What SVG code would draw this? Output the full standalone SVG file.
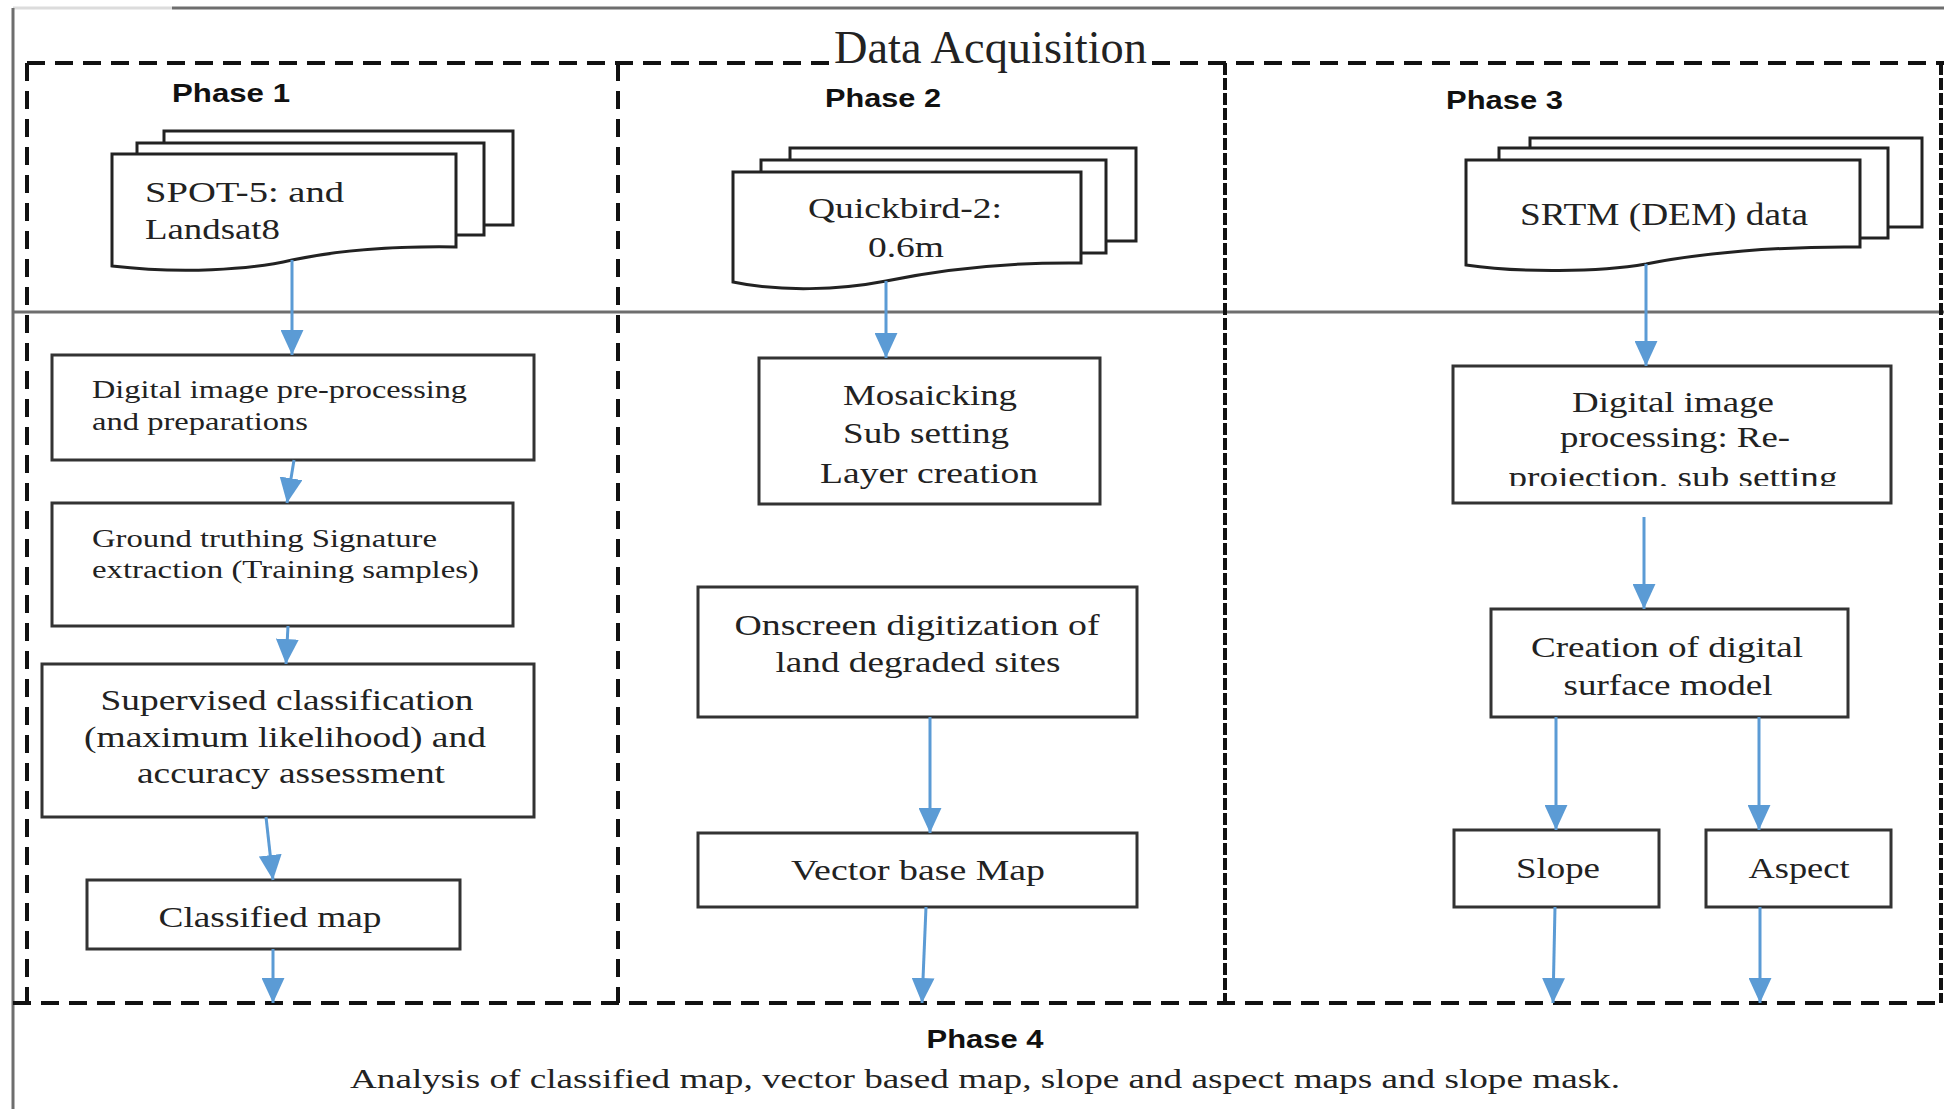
<svg xmlns="http://www.w3.org/2000/svg" width="1944" height="1109" viewBox="0 0 1944 1109">
<style>
.frame{fill:none;stroke:#6e6e6e;stroke-width:3}
.dash{fill:none;stroke:#111;stroke-width:4;stroke-dasharray:18 10}
.dash2{fill:none;stroke:#111;stroke-width:4;stroke-dasharray:12 3}
.box{fill:#fff;stroke:#333;stroke-width:3}
.doc{fill:#fff;stroke:#222;stroke-width:3}
.t{font-family:"Liberation Serif",serif;fill:#222}
.ph{font-family:"Liberation Sans",Arial,sans-serif;font-weight:bold;font-size:26px;fill:#111}
.arr{stroke:#5b9bd5;stroke-width:3;fill:none;marker-end:url(#ah)}
</style>
<defs>
<marker id="ah" viewBox="0 0 24 22" refX="24" refY="11" markerWidth="25" markerHeight="23" markerUnits="userSpaceOnUse" orient="auto">
<path d="M0,0 L24,11 L0,22 Z" fill="#5b9bd5"/>
</marker>
<clipPath id="clipP3"><rect x="1453" y="366" width="438" height="120"/></clipPath>
</defs>
<rect width="1944" height="1109" fill="#fff"/>
<g id="frame">
<line x1="13" y1="8" x2="172" y2="8" stroke="#dcdcdc" stroke-width="3"/>
<line x1="172" y1="8" x2="1944" y2="8" class="frame"/>
<line x1="13" y1="8" x2="13" y2="1109" class="frame"/>
<line x1="13" y1="312" x2="1944" y2="312" class="frame"/>
<line x1="27" y1="63" x2="830" y2="63" class="dash"/>
<line x1="1152" y1="63" x2="1944" y2="63" class="dash"/>
<line x1="27" y1="63" x2="27" y2="1003" class="dash"/>
<line x1="618" y1="63" x2="618" y2="1003" class="dash"/>
<line x1="1225" y1="63" x2="1225" y2="1003" class="dash2"/>
<line x1="1941" y1="63" x2="1941" y2="1003" class="dash2"/>
<line x1="13" y1="1003" x2="1944" y2="1003" class="dash"/>
<text x="834" y="63" class="t" font-size="46" textLength="313" lengthAdjust="spacingAndGlyphs">Data Acquisition</text>
<text x="172" y="102" class="ph" textLength="118" lengthAdjust="spacingAndGlyphs">Phase 1</text>
<text x="825" y="107" class="ph" textLength="116" lengthAdjust="spacingAndGlyphs">Phase 2</text>
<text x="1446" y="109" class="ph" textLength="117" lengthAdjust="spacingAndGlyphs">Phase 3</text>
</g>
<g id="doc1">
<rect x="164" y="131" width="349" height="94" class="doc"/>
<rect x="137" y="143" width="347" height="92" class="doc"/>
<path d="M112,154 H456 V247 C390,246 340,250 292,260 C250,270 180,274 112,266 Z" class="doc"/>
<text x="145" y="202" class="t" font-size="30" textLength="199" lengthAdjust="spacingAndGlyphs">SPOT-5: and</text>
<text x="145" y="239" class="t" font-size="30" textLength="135" lengthAdjust="spacingAndGlyphs">Landsat8</text>
</g>
<g id="doc2">
<rect x="790" y="148" width="346" height="93" class="doc"/>
<rect x="761" y="160" width="345" height="93" class="doc"/>
<path d="M733,172 H1081 V263 C1000,262 940,270 886,281 C840,290 780,292 733,282 Z" class="doc"/>
<text x="905" y="218" class="t" font-size="30" text-anchor="middle" textLength="194" lengthAdjust="spacingAndGlyphs">Quickbird-2:</text>
<text x="906" y="257" class="t" font-size="30" text-anchor="middle" textLength="76" lengthAdjust="spacingAndGlyphs">0.6m</text>
</g>
<g id="doc3">
<rect x="1530" y="138" width="392" height="89" class="doc"/>
<rect x="1499" y="148" width="389" height="90" class="doc"/>
<path d="M1466,160 H1860 V247 C1780,246 1700,253 1646,264 C1600,272 1520,273 1466,265 Z" class="doc"/>
<text x="1664" y="225" class="t" font-size="31" text-anchor="middle" textLength="288" lengthAdjust="spacingAndGlyphs">SRTM (DEM) data</text>
</g>
<g id="p1-preprocess">
<rect x="52" y="355" width="482" height="105" class="box"/>
<text x="92" y="398" class="t" font-size="25" textLength="375" lengthAdjust="spacingAndGlyphs">Digital image pre-processing</text>
<text x="92" y="430" class="t" font-size="25" textLength="216" lengthAdjust="spacingAndGlyphs">and preparations</text>
</g>
<g id="p1-ground">
<rect x="52" y="503" width="461" height="123" class="box"/>
<text x="92" y="547" class="t" font-size="25" textLength="345" lengthAdjust="spacingAndGlyphs">Ground truthing Signature</text>
<text x="92" y="578" class="t" font-size="25" textLength="387" lengthAdjust="spacingAndGlyphs">extraction (Training samples)</text>
</g>
<g id="p1-supervised">
<rect x="42" y="664" width="492" height="153" class="box"/>
<text x="287" y="710" class="t" font-size="30" text-anchor="middle" textLength="373" lengthAdjust="spacingAndGlyphs">Supervised classification</text>
<text x="285" y="747" class="t" font-size="30" text-anchor="middle" textLength="402" lengthAdjust="spacingAndGlyphs">(maximum likelihood) and</text>
<text x="291" y="783" class="t" font-size="30" text-anchor="middle" textLength="308" lengthAdjust="spacingAndGlyphs">accuracy assessment</text>
</g>
<g id="p1-classified">
<rect x="87" y="880" width="373" height="69" class="box"/>
<text x="270" y="927" class="t" font-size="30" text-anchor="middle" textLength="223" lengthAdjust="spacingAndGlyphs">Classified map</text>
</g>
<g id="p2-mosaic">
<rect x="759" y="358" width="341" height="146" class="box"/>
<text x="930" y="405" class="t" font-size="30" text-anchor="middle" textLength="174" lengthAdjust="spacingAndGlyphs">Mosaicking</text>
<text x="926" y="443" class="t" font-size="30" text-anchor="middle" textLength="166" lengthAdjust="spacingAndGlyphs">Sub setting</text>
<text x="929" y="483" class="t" font-size="30" text-anchor="middle" textLength="218" lengthAdjust="spacingAndGlyphs">Layer  creation</text>
</g>
<g id="p2-onscreen">
<rect x="698" y="587" width="439" height="130" class="box"/>
<text x="917" y="635" class="t" font-size="30" text-anchor="middle" textLength="365" lengthAdjust="spacingAndGlyphs">Onscreen digitization of</text>
<text x="918" y="672" class="t" font-size="30" text-anchor="middle" textLength="285" lengthAdjust="spacingAndGlyphs">land degraded sites</text>
</g>
<g id="p2-vector">
<rect x="698" y="833" width="439" height="74" class="box"/>
<text x="918" y="880" class="t" font-size="30" text-anchor="middle" textLength="254" lengthAdjust="spacingAndGlyphs">Vector base Map</text>
</g>
<g id="p3-processing">
<rect x="1453" y="366" width="438" height="137" class="box"/>
<text x="1673" y="412" class="t" font-size="30" text-anchor="middle" textLength="202" lengthAdjust="spacingAndGlyphs">Digital image</text>
<text x="1675" y="447" class="t" font-size="30" text-anchor="middle" textLength="230" lengthAdjust="spacingAndGlyphs">processing: Re-</text>
<g clip-path="url(#clipP3)">
<text x="1673" y="487" class="t" font-size="30" text-anchor="middle" textLength="329" lengthAdjust="spacingAndGlyphs">projection, sub setting</text>
</g>
</g>
<g id="p3-dsm">
<rect x="1491" y="609" width="357" height="108" class="box"/>
<text x="1667" y="657" class="t" font-size="30" text-anchor="middle" textLength="272" lengthAdjust="spacingAndGlyphs">Creation of digital</text>
<text x="1668" y="695" class="t" font-size="30" text-anchor="middle" textLength="209" lengthAdjust="spacingAndGlyphs">surface model</text>
</g>
<g id="p3-slope">
<rect x="1454" y="830" width="205" height="77" class="box"/>
<text x="1558" y="878" class="t" font-size="30" text-anchor="middle" textLength="84" lengthAdjust="spacingAndGlyphs">Slope</text>
</g>
<g id="p3-aspect">
<rect x="1706" y="830" width="185" height="77" class="box"/>
<text x="1799" y="878" class="t" font-size="30" text-anchor="middle" textLength="101" lengthAdjust="spacingAndGlyphs">Aspect</text>
</g>
<g id="phase4">
<text x="985" y="1048" class="ph" text-anchor="middle" textLength="117" lengthAdjust="spacingAndGlyphs">Phase 4</text>
<text x="350" y="1088" class="t" font-size="28" textLength="1270" lengthAdjust="spacingAndGlyphs">Analysis of classified map, vector based map, slope and aspect maps and slope mask.</text>
</g>
<g id="connectors">
<line x1="292" y1="260" x2="292" y2="355" class="arr"/>
<line x1="294" y1="460" x2="287" y2="503" class="arr"/>
<line x1="288" y1="626" x2="286" y2="664" class="arr"/>
<line x1="266" y1="817" x2="273" y2="880" class="arr"/>
<line x1="273" y1="949" x2="273" y2="1003" class="arr"/>
<line x1="886" y1="281" x2="886" y2="358" class="arr"/>
<line x1="930" y1="717" x2="930" y2="833" class="arr"/>
<line x1="926" y1="907" x2="922" y2="1003" class="arr"/>
<line x1="1646" y1="264" x2="1646" y2="366" class="arr"/>
<line x1="1644" y1="517" x2="1644" y2="609" class="arr"/>
<line x1="1556" y1="717" x2="1556" y2="830" class="arr"/>
<line x1="1759" y1="717" x2="1759" y2="830" class="arr"/>
<line x1="1555" y1="907" x2="1553" y2="1003" class="arr"/>
<line x1="1760" y1="907" x2="1760" y2="1003" class="arr"/>
</g>
</svg>
